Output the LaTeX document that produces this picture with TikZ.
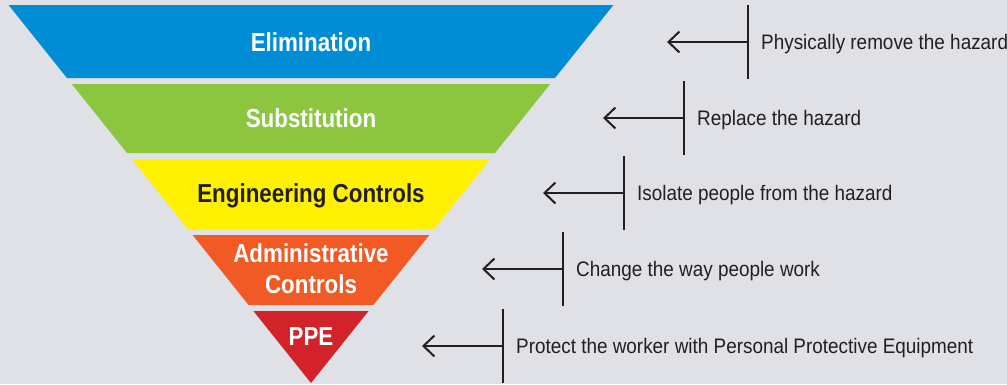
\documentclass[tikz,border=0pt]{standalone}
\usepackage{fontspec}
\setmainfont{Liberation Sans}
\newfontfamily\bandfont[FakeStretch=0.86]{Liberation Sans}
\newfontfamily\notefont[FakeStretch=0.9]{Liberation Sans}
\usetikzlibrary{arrows.meta}
\definecolor{bg}{HTML}{DFE1E7}
\definecolor{cblue}{HTML}{008DD5}
\definecolor{cgreen}{HTML}{8CC63F}
\definecolor{cyellow}{HTML}{FFF100}
\definecolor{corange}{HTML}{F15A24}
\definecolor{cred}{HTML}{D2232A}
\definecolor{ink}{HTML}{231F20}
\tikzset{
  bandlabel/.style={font=\bandfont\bfseries\fontsize{26}{31}\selectfont, text=white, inner sep=0pt, anchor=base, align=center},
  note/.style={font=\notefont\fontsize{21}{24}\selectfont, text=ink, inner sep=0pt, anchor=base west},
  vbar/.style={draw=ink, line width=2.2pt},
  pointer/.style={draw=ink, line width=2pt, -{Straight Barb[length=11pt, width=21pt, line width=2pt]}},
}
\begin{document}
\begin{tikzpicture}[x=1pt,y=-1pt]
\fill[bg] (0,0) rectangle (1007,384);
\useasboundingbox (0,0) rectangle (1007,384);
% bands
\fill[cblue]   (8.6,5)   -- (613.4,5)   -- (555,78)    -- (67,78)    -- cycle;
\fill[cgreen]  (71.8,84) -- (550.2,84)  -- (495,153)   -- (127,153)  -- cycle;
\fill[cyellow] (131.8,159) -- (490.2,159) -- (434.2,229) -- (187.8,229) -- cycle;
\fill[corange] (192.6,235) -- (429.4,235) -- (373.4,305) -- (248.6,305) -- cycle;
\fill[cred]    (253.4,311) -- (368.6,311) -- (311,383) -- cycle;
% band labels
\node[bandlabel] (elim) at (311,51) {Elimination};
\node[bandlabel] (subs) at (311,127) {Substitution};
\node[bandlabel, text=ink] (eng) at (311,202) {Engineering Controls};
\node[bandlabel, anchor=center] (adm) at (311,269) {Administrative\\Controls};
\node[bandlabel] (ppe) at (311,345) {PPE};
% notes
\foreach \i/\vx/\yc/\txt in {1/748/42/Physically remove the hazard,
                             2/684/118/Replace the hazard,
                             3/624/193/Isolate people from the hazard,
                             4/563/269/Change the way people work,
                             5/503/346/Protect the worker with Personal Protective Equipment}{
  \coordinate (top\i) at (\vx,\yc-37);
  \coordinate (bot\i) at (\vx,\yc+37);
  \coordinate (mid\i) at (\vx,\yc);
  \coordinate (tip\i) at (\vx-81,\yc);
  \draw[vbar] (top\i) -- (bot\i);
  \draw[pointer] (mid\i) -- (tip\i);
  \node[note] (note\i) at (\vx+13,\yc+7.5) {\txt};
}
\end{tikzpicture}
\end{document}
